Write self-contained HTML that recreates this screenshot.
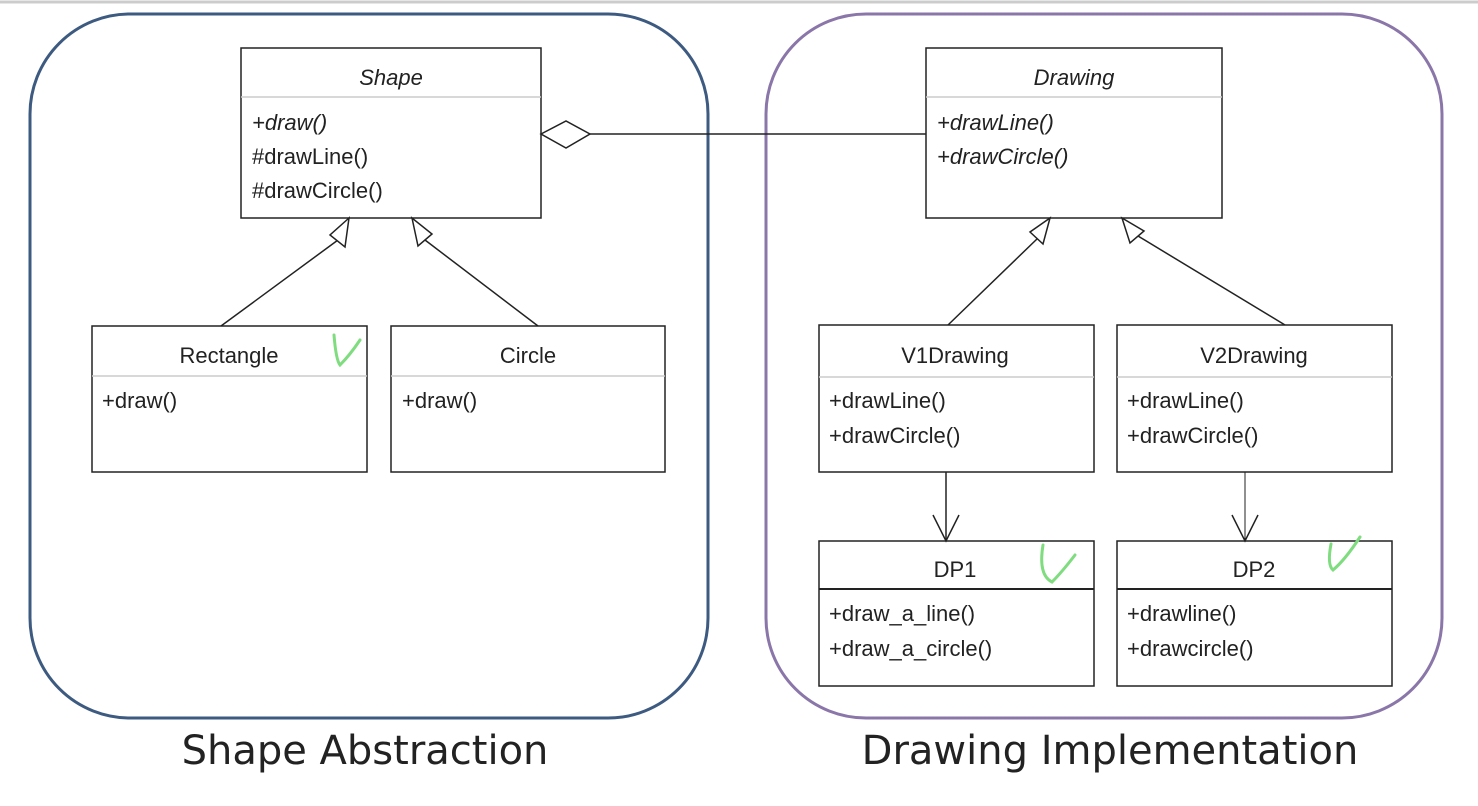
<!DOCTYPE html>
<html><head><style>
html,body{margin:0;padding:0;background:#fff;}
svg{display:block;}
text{font-family:"Liberation Sans",sans-serif;fill:#222;}
</style></head><body>
<svg width="1478" height="806" viewBox="0 0 1478 806">
<line x1="0" y1="2" x2="1478" y2="2" stroke="#ccc" stroke-width="3"/>
<rect x="30" y="14" width="678" height="704" rx="100" fill="none" stroke="#3d5a80" stroke-width="3"/>
<rect x="766" y="14" width="676" height="704" rx="100" fill="none" stroke="#8a76a8" stroke-width="3"/>
<g stroke="#222" stroke-width="1.5" fill="#fff">
<rect x="241" y="48" width="300" height="170"/>
<rect x="926" y="48" width="296" height="170"/>
<rect x="92" y="326" width="275" height="146"/>
<rect x="391" y="326" width="274" height="146"/>
<rect x="819" y="325" width="275" height="147"/>
<rect x="1117" y="325" width="275" height="147"/>
<rect x="819" y="541" width="275" height="145"/>
<rect x="1117" y="541" width="275" height="145"/>
</g>
<g stroke="#ccc" stroke-width="1.5">
<line x1="241" y1="97" x2="541" y2="97"/>
<line x1="926" y1="97" x2="1222" y2="97"/>
<line x1="92" y1="376" x2="367" y2="376"/>
<line x1="391" y1="376" x2="665" y2="376"/>
<line x1="819" y1="377" x2="1094" y2="377"/>
<line x1="1117" y1="377" x2="1392" y2="377"/>
</g>
<g stroke="#222" stroke-width="2">
<line x1="819" y1="589" x2="1094" y2="589"/>
<line x1="1117" y1="589" x2="1392" y2="589"/>
</g>
<g stroke="#222" stroke-width="1.5" fill="none">
<line x1="590" y1="134" x2="926" y2="134"/>
<polygon points="541,134 566,121 590,134 566,148" fill="#fff"/>
<line x1="221" y1="326" x2="338" y2="240"/>
<polygon points="349,218 330,235 345,247" fill="#fff"/>
<line x1="538" y1="326" x2="425" y2="240"/>
<polygon points="412,218 418,246 432,234" fill="#fff"/>
<line x1="948" y1="325" x2="1038" y2="238"/>
<polygon points="1050,218 1030,232 1043,244" fill="#fff"/>
<line x1="1285" y1="325" x2="1138" y2="236"/>
<polygon points="1122,218 1130,243 1144,231" fill="#fff"/>
<line x1="946" y1="472" x2="946" y2="541"/>
<polyline points="933,515 946,541 959,515"/>
<line x1="1245" y1="472" x2="1245" y2="541" stroke-width="1"/>
<polyline points="1232,515 1245,541 1258,515"/>
</g>
<g font-size="22">
<text x="391" y="85" text-anchor="middle" font-style="italic">Shape</text>
<text x="252" y="130" font-style="italic">+draw()</text>
<text x="252" y="164">#drawLine()</text>
<text x="252" y="198">#drawCircle()</text>
<text x="1074" y="85" text-anchor="middle" font-style="italic">Drawing</text>
<text x="937" y="130" font-style="italic">+drawLine()</text>
<text x="937" y="164" font-style="italic">+drawCircle()</text>
<text x="229" y="363" text-anchor="middle">Rectangle</text>
<text x="102" y="408">+draw()</text>
<text x="528" y="363" text-anchor="middle">Circle</text>
<text x="402" y="408">+draw()</text>
<text x="955" y="363" text-anchor="middle">V1Drawing</text>
<text x="829" y="408">+drawLine()</text>
<text x="829" y="443">+drawCircle()</text>
<text x="1254" y="363" text-anchor="middle">V2Drawing</text>
<text x="1127" y="408">+drawLine()</text>
<text x="1127" y="443">+drawCircle()</text>
<text x="955" y="577" text-anchor="middle">DP1</text>
<text x="829" y="621">+draw_a_line()</text>
<text x="829" y="656">+draw_a_circle()</text>
<text x="1254" y="577" text-anchor="middle">DP2</text>
<text x="1127" y="621">+drawline()</text>
<text x="1127" y="656">+drawcircle()</text>
</g>
<g stroke="#7fdc7f" stroke-width="3" fill="none" stroke-linecap="round">
<path d="M334,335 Q336,360 340,365 Q350,355 360,340"/>
<path d="M1043,545 Q1038,575 1052,582 Q1062,572 1075,555"/>
<path d="M1331,544 Q1327,565 1333,570 Q1345,560 1360,537"/>
</g>
<text x="365" y="764" text-anchor="middle" font-size="40" style="font-family:'DejaVu Sans',sans-serif" fill="#111">Shape Abstraction</text>
<text x="1110" y="764" text-anchor="middle" font-size="40" style="font-family:'DejaVu Sans',sans-serif" fill="#111">Drawing Implementation</text>
</svg>
</body></html>
